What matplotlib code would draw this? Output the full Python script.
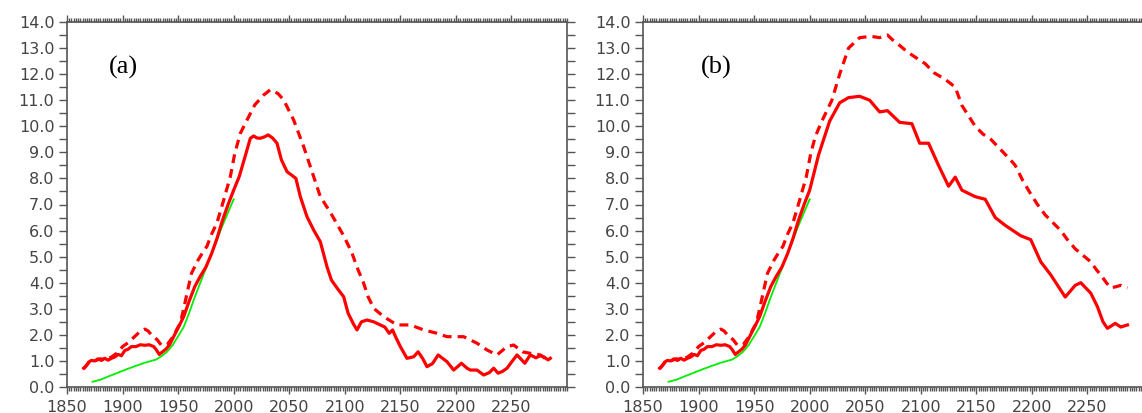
import numpy as np
import matplotlib.pyplot as plt
from matplotlib.ticker import MultipleLocator, FormatStrFormatter

# observed (green), same in both panels
obs_year = [1873, 1880, 1890, 1900, 1910, 1920, 1930, 1935, 1940, 1945, 1950,
            1955, 1960, 1965, 1970, 1975, 1980, 1985, 1990, 1995, 2000]
obs_val = [0.2, 0.28, 0.45, 0.62, 0.78, 0.93, 1.05, 1.18, 1.35, 1.6, 1.95,
           2.3, 2.85, 3.45, 4.0, 4.55, 5.1, 5.65, 6.2, 6.7, 7.2]

# historical part of the solid curve (shared)
hist_solid_year = [1865, 1867, 1870, 1872, 1875, 1878, 1881, 1884, 1887, 1890, 1893,
                   1896, 1899, 1902, 1905, 1908, 1912, 1916, 1920, 1924, 1928, 1930,
                   1933, 1936, 1939, 1942, 1945, 1948, 1951, 1955, 1960, 1965, 1970,
                   1975, 1980, 1985, 1990, 1995, 2000]
hist_solid_val = [0.72, 0.8, 0.97, 1.02, 1.0, 1.08, 1.02, 1.1, 1.03, 1.1, 1.15,
                  1.25, 1.2, 1.4, 1.45, 1.55, 1.55, 1.62, 1.6, 1.62, 1.55, 1.45,
                  1.25, 1.35, 1.45, 1.6, 1.85, 2.1, 2.35, 2.7, 3.3, 3.85, 4.25,
                  4.6, 5.1, 5.7, 6.4, 7.0, 7.55]

# historical part of the dashed curve (shared)
hist_dash_year = [1865, 1867, 1870, 1875, 1880, 1885, 1890, 1895, 1900, 1905, 1910,
                  1915, 1920, 1923, 1927, 1931, 1935, 1940, 1945, 1950, 1952, 1956,
                  1962, 1968, 1972, 1976, 1980, 1985, 1991, 1997, 2001]
hist_dash_val = [0.7, 0.8, 0.97, 1.0, 1.08, 1.05, 1.15, 1.3, 1.55, 1.7, 1.9,
                 2.1, 2.22, 2.15, 1.95, 1.82, 1.6, 1.62, 1.9, 2.3, 2.44, 3.2,
                 4.36, 4.87, 5.15, 5.4, 5.85, 6.3, 7.17, 8.07, 8.96]

# panel (a) future
a_solid_year = [2005, 2010, 2015, 2018, 2021, 2024, 2028, 2031, 2035, 2039, 2043,
                2048, 2053, 2056, 2060, 2066, 2072, 2078, 2084, 2088, 2093, 2099,
                2103, 2108, 2111, 2115, 2120, 2126, 2132, 2136, 2140, 2143, 2146,
                2150, 2156, 2162, 2166, 2170, 2174, 2179, 2184, 2188, 2192, 2198,
                2205, 2210, 2213, 2219, 2225, 2230, 2234, 2238, 2242, 2246, 2250,
                2255, 2259, 2262, 2267, 2272, 2276, 2279, 2283, 2285]
a_solid_val = [8.07, 8.8, 9.54, 9.63, 9.55, 9.54, 9.6, 9.67, 9.55, 9.35, 8.71,
               8.26, 8.1, 8.0, 7.3, 6.53, 6.02, 5.57, 4.61, 4.1, 3.8, 3.46,
               2.83, 2.4, 2.19, 2.5, 2.57, 2.5, 2.38, 2.3, 2.06, 2.19, 1.9,
               1.55, 1.1, 1.16, 1.35, 1.1, 0.78, 0.9, 1.23, 1.1, 0.97, 0.65,
               0.91, 0.72, 0.65, 0.65, 0.46, 0.55, 0.72, 0.53, 0.6, 0.72, 0.95,
               1.23, 1.05, 0.91, 1.23, 1.12, 1.2, 1.16, 1.04, 1.1]
a_dash_year = [2006, 2012, 2019, 2027, 2033, 2036, 2040, 2045, 2054, 2063, 2072,
               2078, 2087, 2099, 2106, 2112, 2117, 2121, 2126, 2135, 2147, 2159,
               2171, 2183, 2192, 2207, 2219, 2228, 2237, 2246, 2252, 2260, 2267,
               2276, 2282, 2285]
a_dash_val = [9.73, 10.24, 10.82, 11.2, 11.4, 11.35, 11.25, 11.01, 10.24, 9.22, 8.07,
              7.3, 6.7, 5.8, 5.19, 4.49, 3.98, 3.46, 3.02, 2.7, 2.38, 2.38,
              2.19, 2.06, 1.93, 1.93, 1.68, 1.42, 1.23, 1.55, 1.61, 1.35, 1.29,
              1.23, 1.04, 1.1]

# panel (b) future
b_solid_year = [2008, 2018, 2027, 2035, 2045, 2054, 2063, 2070, 2081, 2092, 2099,
                2107, 2116, 2125, 2131, 2137, 2149, 2158, 2167, 2176, 2190, 2199,
                2208, 2217, 2230, 2239, 2244, 2253, 2259, 2264, 2268, 2275, 2280,
                2286]
b_solid_val = [8.9, 10.2, 10.9, 11.1, 11.15, 11.0, 10.55, 10.6, 10.15, 10.1, 9.35,
               9.35, 8.5, 7.7, 8.05, 7.55, 7.3, 7.2, 6.5, 6.2, 5.8, 5.65,
               4.8, 4.3, 3.45, 3.9, 4.0, 3.6, 3.08, 2.5, 2.25, 2.44, 2.3,
               2.38]
b_dash_year = [2005, 2011, 2020, 2027, 2035, 2045, 2055, 2063, 2070, 2075, 2081,
               2088, 2095, 2104, 2112, 2122, 2131, 2137, 2143, 2149, 2156, 2163,
               2172, 2181, 2185, 2192, 2199, 2205, 2212, 2219, 2226, 2232, 2239,
               2246, 2253, 2258, 2262, 2267, 2271, 2276, 2280, 2286]
b_dash_val = [9.6, 10.2, 11.0, 12.0, 13.0, 13.4, 13.45, 13.4, 13.5, 13.3, 13.1,
              12.85, 12.65, 12.4, 12.05, 11.8, 11.5, 10.8, 10.4, 10.0, 9.7, 9.5,
              9.1, 8.7, 8.5, 7.9, 7.4, 7.0, 6.6, 6.3, 6.0, 5.65, 5.3,
              5.05, 4.8, 4.5, 4.3, 4.0, 3.8, 3.85, 3.9, 3.8]

panels = [
    ('(a)', 1901, a_solid_year, a_solid_val, a_dash_year, a_dash_val),
    ('(b)', 1916, b_solid_year, b_solid_val, b_dash_year, b_dash_val),
]

fig = plt.figure(figsize=(11.42, 4.13), dpi=100)
lefts = [67 / 1142, 643 / 1142]
grey = '#555555'

for left, (lab, lab_x, sy, sv, dy, dv) in zip(lefts, panels):
    ax = fig.add_axes([left, 1 - 387 / 413, 500 / 1142, 365 / 413])
    ax.plot(obs_year, obs_val, color='#00ee00', lw=1.3, zorder=3)
    ax.plot(hist_solid_year + sy, hist_solid_val + sv, color='red', lw=2.3, zorder=4)
    ax.plot(hist_dash_year + dy, hist_dash_val + dv, color='red', lw=2.3,
            dashes=(2.8, 1.9), zorder=4)
    ax.text(lab_x, 12.25, lab, fontsize=19, family='Liberation Serif',
            ha='center', va='center')

    ax.set_xlim(1850, 2300)
    ax.set_ylim(0, 14)
    ax.xaxis.set_major_locator(MultipleLocator(50))
    ax.xaxis.set_minor_locator(MultipleLocator(2))
    ax.yaxis.set_major_locator(MultipleLocator(1))
    ax.yaxis.set_minor_locator(MultipleLocator(0.5))
    ax.yaxis.set_major_formatter(FormatStrFormatter('%.1f'))
    ax.set_xticks(np.arange(1850, 2300, 50))

    ax.tick_params(which='both', direction='out', top=True, right=True,
                   color=grey, labelcolor='#444444', labelsize=11.5)
    ax.tick_params(axis='x', which='major', length=5, width=1, pad=4)
    ax.tick_params(axis='x', which='minor', length=3, width=1)
    ax.tick_params(axis='y', which='both', length=6, width=1, pad=3)
    for s in ax.spines.values():
        s.set_color(grey)
        s.set_linewidth(1.2)

fig.savefig('out.png', dpi=100)
